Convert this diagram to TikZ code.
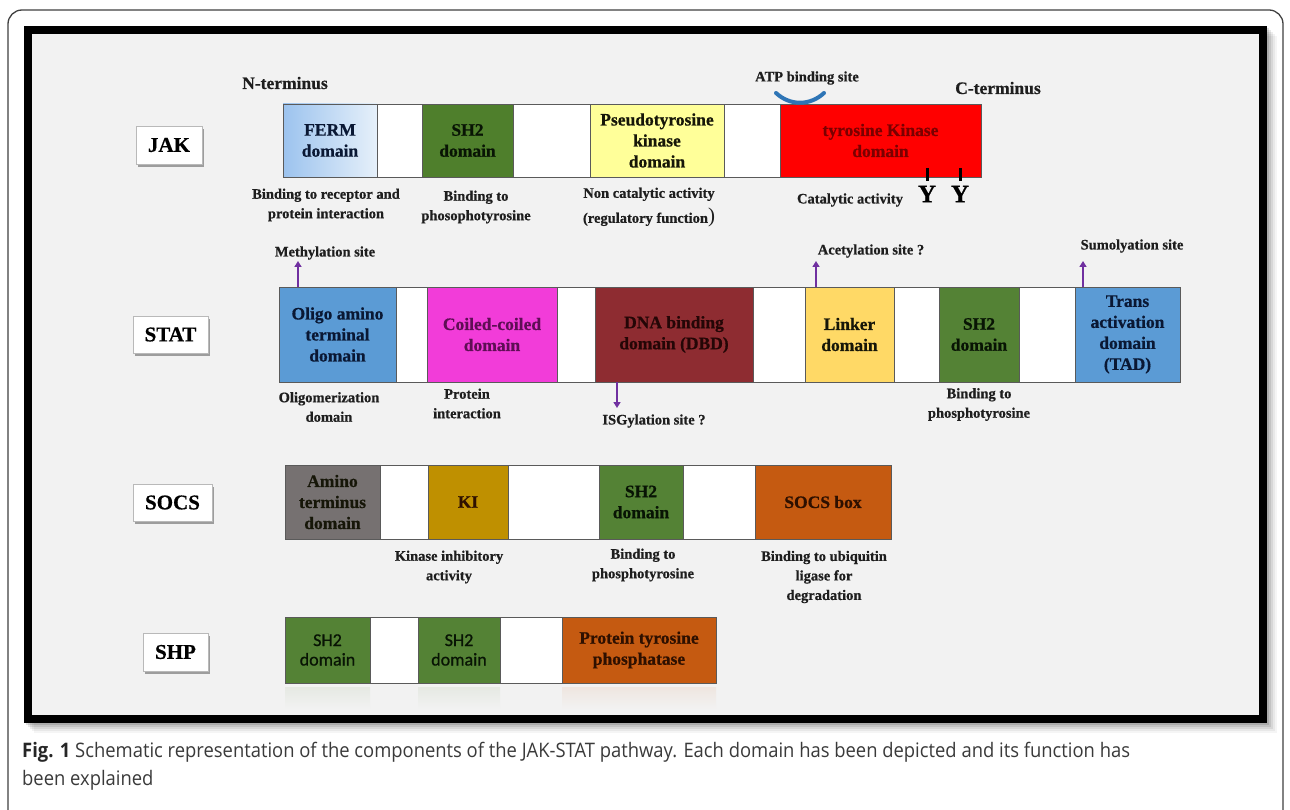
\documentclass[tikz,border=0pt]{standalone}
\usepackage{fontspec}
\setmainfont{Liberation Serif}[BoldFeatures={FakeBold=0.6}]
\newfontfamily\calib{Carlito}[FakeBold=0.8]
\newfontfamily\capfont[FakeStretch=0.92]{Open Sans}
\usetikzlibrary{arrows.meta,shadows}
\definecolor{bgray}{HTML}{F2F2F2}
\definecolor{segline}{HTML}{5A5A5A}
\definecolor{outerline}{HTML}{404040}
\definecolor{fermL}{HTML}{9CC3EE}
\definecolor{fermR}{HTML}{E6F0FA}
\definecolor{sh2}{HTML}{548235}
\definecolor{sh2jak}{HTML}{4F7F2C}
\definecolor{pseudo}{HTML}{FFFF99}
\definecolor{tkred}{HTML}{FF0000}
\definecolor{oligo}{HTML}{5B9BD5}
\definecolor{coiled}{HTML}{F23CD9}
\definecolor{dbdc}{HTML}{8E2C31}
\definecolor{linker}{HTML}{FFD966}
\definecolor{amino}{HTML}{767171}
\definecolor{kic}{HTML}{BF9000}
\definecolor{socsc}{HTML}{C55A11}
\definecolor{purp}{HTML}{7030A0}
\definecolor{atpblue}{HTML}{2E75B6}
\definecolor{navytxt}{HTML}{0A1834}
\definecolor{labtxt}{HTML}{1E1E1E}
\definecolor{dktxt}{HTML}{161608}
\definecolor{greentxt}{HTML}{081404}
\definecolor{tktxt}{HTML}{7A0000}
\definecolor{coiltxt}{HTML}{5E0E54}
\definecolor{dbdtxt}{HTML}{240606}
\definecolor{browntxt}{HTML}{2E1000}
\definecolor{captxt}{HTML}{3A3A3A}
\newcommand\domseg[7]{%
  \node[segbox,#6,minimum width={(#3-#2)*1pt},minimum height={(#5-#4)*1pt}] (#1) at ({(#2+#3)/2},{(#4+#5)/2}) {#7};}
\tikzset{
  segbox/.style={draw=segline, line width=0.9pt, inner sep=0pt, align=center,
    font=\bfseries\fontsize{17.5}{21}\selectfont},
  gapbox/.style={fill=white},
  labbox/.style={draw=gray!55, fill=white, line width=0.6pt, inner sep=0pt,
    font=\bfseries\fontsize{21}{24}\selectfont,
    drop shadow={shadow xshift=2pt, shadow yshift=-3pt, fill=black, opacity=0.35}},
  lab/.style={inner sep=0pt, align=center, text=labtxt,
    font=\bfseries\fontsize{14.5}{19.5}\selectfont},
  termlab/.style={inner sep=0pt, text=labtxt, font=\bfseries\fontsize{17.5}{20}\selectfont},
  ylab/.style={inner sep=0pt, text=black, font=\bfseries\fontsize{25}{26}\selectfont},
  parrow/.style={draw=purp, line width=2.6pt, -{Triangle[length=6pt,width=7pt]}},
  ytick/.style={draw=black, line width=3pt},
  atparc/.style={draw=atpblue, line width=4pt, line cap=round}
}
\begin{document}
\begin{tikzpicture}[x=1pt,y=-1pt]
\useasboundingbox (0,0) rectangle (1290,810);
\clip (0,0) rectangle (1290,810);
\fill[white] (0,0) rectangle (1290,810);
\draw[outerline, line width=1.3pt, rounded corners=14pt] (8,10) rectangle (1283,840);
% frame shadow
\foreach \d/\o in {10/0.04,8/0.05,6/0.07,4/0.09,2/0.12}
  \fill[black,opacity=\o] (24+\d,26+\d) rectangle (1267+\d,723+\d);
\draw[line width=8pt, fill=bgray] (28,30) rectangle (1263,719);

% ---------- JAK ----------
\node[labbox, minimum width=66pt, minimum height=38pt] (jak) at (169,145) {JAK};
\domseg{ferm}{283}{377}{104}{177}{left color=fermL,right color=fermR,text=navytxt}{FERM\\domain}
\domseg{jg1}{377}{422}{104}{177}{gapbox}{}
\domseg{jsh2}{422}{513}{104}{177}{fill=sh2jak,text=greentxt}{SH2\\domain}
\domseg{jg2}{513}{590}{104}{177}{gapbox}{}
\domseg{pseudo}{590}{724}{104}{177}{fill=pseudo,text=dktxt}{Pseudotyrosine\\kinase\\domain}
\domseg{jg3}{724}{780}{104}{177}{gapbox}{}
\domseg{tk}{780}{981}{104}{177}{fill=tkred,text=tktxt}{tyrosine Kinase\\domain}
\node[termlab] (nterm) at (285,83) {N-terminus};
\node[termlab] (cterm) at (998,88) {C-terminus};
\node[lab] (atp) at (807,78) {ATP binding site};
\draw[atparc] (776,93) .. controls (790,106) and (810,106) .. (824,93);
\node[lab] (fermf) at (326,205) {Binding to receptor and\\protein interaction};
\node[lab] (jsh2f) at (476,207) {Binding to\\phosophotyrosine};
\node[lab, font=\bfseries\fontsize{14.5}{25}\selectfont] (pseudof) at (649,207.5)
  {Non catalytic activity\\(regulatory function{\mdseries\fontsize{21}{21}\selectfont)}};
\node[lab] (tkf) at (850,200) {Catalytic activity};
\node[ylab] (y1) at (927,194) {Y};
\node[ylab] (y2) at (960,194) {Y};
\coordinate (t1a) at (927,168); \coordinate (t1b) at (927,181);
\coordinate (t2a) at (960,168); \coordinate (t2b) at (960,181);
\draw[ytick] (t1a) -- (t1b);
\draw[ytick] (t2a) -- (t2b);

% ---------- STAT ----------
\node[labbox, minimum width=75pt, minimum height=37pt] (stat) at (170.5,334.5) {STAT};
\domseg{olig}{279}{396}{287}{382}{fill=oligo,text=navytxt}{Oligo amino\\terminal\\domain}
\domseg{sg1}{396}{427}{287}{382}{gapbox}{}
\domseg{coil}{427}{557}{287}{382}{fill=coiled,text=coiltxt}{Coiled-coiled\\domain}
\domseg{sg2}{557}{595}{287}{382}{gapbox}{}
\domseg{dbd}{595}{753}{287}{382}{fill=dbdc,text=dbdtxt}{DNA binding\\domain (DBD)}
\domseg{sg3}{753}{805}{287}{382}{gapbox}{}
\domseg{link}{805}{894}{287}{382}{fill=linker,text=dktxt}{Linker\\domain}
\domseg{sg4}{894}{939}{287}{382}{gapbox}{}
\domseg{ssh2}{939}{1019}{287}{382}{fill=sh2,text=greentxt}{SH2\\domain}
\domseg{sg5}{1019}{1075}{287}{382}{gapbox}{}
\domseg{tad}{1075}{1180}{287}{382}{fill=oligo,text=navytxt}{Trans\\activation\\domain\\(TAD)}
\node[lab] (meth) at (325,253) {Methylation site};
\node[lab] (acet) at (871,251) {Acetylation site ?};
\node[lab] (sumo) at (1132,246) {Sumolyation site};
\node[lab] (isg) at (654,421) {ISGylation site ?};
\coordinate (metha) at (298,261);
\coordinate (aceta) at (816,261);
\coordinate (sumoa) at (1083,261);
\coordinate (isga) at (617,408);
\draw[parrow] (olig.north -| metha) -- (metha);
\draw[parrow] (link.north -| aceta) -- (aceta);
\draw[parrow] (tad.north -| sumoa) -- (sumoa);
\draw[parrow] (dbd.south -| isga) -- (isga);
\node[lab] (oligf) at (329,407) {Oligomerization\\domain};
\node[lab] (coilf) at (467,403.5) {Protein\\interaction};
\node[lab] (ssh2f) at (979,404.5) {Binding to\\phosphotyrosine};

% ---------- SOCS ----------
\node[labbox, minimum width=79pt, minimum height=37pt] (socs) at (172.5,502.5) {SOCS};
\domseg{amino}{285}{380}{465}{539}{fill=amino,text=dktxt}{Amino\\terminus\\domain}
\domseg{og1}{380}{428}{465}{539}{gapbox}{}
\domseg{ki}{428}{508}{465}{539}{fill=kic,text=browntxt}{KI}
\domseg{og2}{508}{599}{465}{539}{gapbox}{}
\domseg{osh2}{599}{683}{465}{539}{fill=sh2,text=greentxt}{SH2\\domain}
\domseg{og3}{683}{755}{465}{539}{gapbox}{}
\domseg{sbox}{755}{891}{465}{539}{fill=socsc,text=browntxt}{SOCS box}
\node[lab] (kif) at (449,567) {Kinase inhibitory\\activity};
\node[lab] (osh2f) at (643,565) {Binding to\\phosphotyrosine};
\node[lab] (sboxf) at (824,577) {Binding to ubiquitin\\ligase for\\degradation};

% ---------- SHP ----------
\node[labbox, minimum width=65pt, minimum height=38pt] (shp) at (175.5,652) {SHP};
\domseg{hsh2a}{285}{370}{617}{683}{fill=sh2,text=greentxt,font=\calib\fontsize{18}{19.5}\selectfont}{SH2\\domain}
\domseg{hg1}{370}{418}{617}{683}{gapbox}{}
\domseg{hsh2b}{418}{500}{617}{683}{fill=sh2,text=greentxt,font=\calib\fontsize{18}{19.5}\selectfont}{SH2\\domain}
\domseg{hg2}{500}{562}{617}{683}{gapbox}{}
\domseg{ptp}{562}{716}{617}{683}{fill=socsc,text=browntxt}{Protein tyrosine\\phosphatase}
% faint reflection
\shade[top color=sh2!8!bgray, bottom color=bgray] (285,687) rectangle (370,709);
\shade[top color=sh2!8!bgray, bottom color=bgray] (418,687) rectangle (500,709);
\shade[top color=socsc!8!bgray, bottom color=bgray] (562,687) rectangle (716,709);

% ---------- caption ----------
\node[anchor=north west, align=left, inner sep=0pt, text=captxt,
  font=\capfont\fontsize{20}{28}\selectfont] (cap) at (22,742)
  {{\color{black!85}\textbf{Fig. 1}} Schematic representation of the components of the JAK-STAT pathway. Each domain has been depicted and its function has\\been explained};
\end{tikzpicture}
\end{document}
